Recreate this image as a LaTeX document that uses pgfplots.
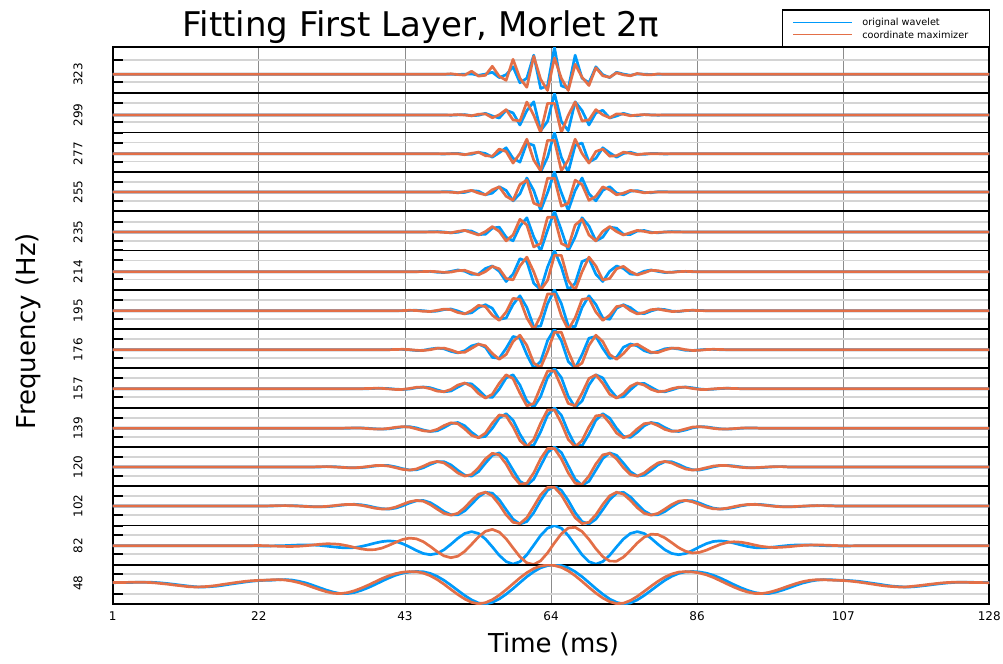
\documentclass[border=0pt]{standalone}
\usepackage{fontspec}
\setmainfont{DejaVu Sans}
\usepackage{pgfplots}
\usepackage{pgfplotstable}
\pgfplotsset{compat=1.18}
\definecolor{jblue}{HTML}{009AFA}
\definecolor{jorange}{HTML}{E36F47}

% 323 Hz
\pgfplotstableread{
t b o
1 0 0
49 0 0
50 0 0.5
51 -0.2 -0.3
52 0.1 -0.8
53 0.4 3.1
54 -1.0 -1.8
55 0.2 -1.0
56 2.0 8.0
57 -3.3 -2.0
58 -0.4 -6.0
59 7.5 15.0
60 -8.5 -4.0
61 -3.9 -13.0
62 19.1 18.0
63 -14.2 -5.0
64 -11.5 -16.2
65 27 16.4
66 -11.5 -4.0
67 -14.2 -16.2
68 19.1 10.0
69 -3.9 -3.0
70 -8.5 -11.2
71 7.5 6.5
72 -0.4 -1.5
73 -3.3 -3.0
74 2.0 1.5
75 0.2 -0.5
76 -1.0 -1.5
77 0.4 0.8
78 0.1 -0.3
79 -0.2 -0.5
80 0 0.3
81 0 0
128 0 0
}\tA
% 299 Hz
\pgfplotstableread{
t b o
1 0 0
49 0 0
50 -0.2 0
51 0.1 0.4
52 0.4 0
53 -0.7 -0.8
54 -0.3 0.8
55 1.7 1.1
56 -1.0 -2.8
57 -3.0 0.2
58 4.7 5.4
59 2.1 -4.9
60 -10.0 -6.0
61 4.4 13.0
62 13.2 -0.3
63 -15.7 -17.5
64 -6.4 11.6
65 21.7 11.6
66 -6.4 -17.5
67 -15.7 -0.3
68 13.2 13.0
69 4.4 -6.0
70 -10.0 -4.9
71 2.1 5.4
72 4.7 0.2
73 -3.0 -2.8
74 -1.0 1.1
75 1.7 0.8
76 -0.3 -0.8
77 -0.7 0
78 0.4 0.4
79 0.1 0
80 -0.2 0
81 0 0
128 0 0
}\tB
% 277 Hz
\pgfplotstableread{
t b o
1 0 0
48 0 0
49 -0.2 0
50 0.2 0
51 0.35 0
52 -0.6 -0.9
53 -0.5 0.5
54 1.6 1.6
55 0.3 -1.9
56 -3.4 -2.4
57 1.0 4.7
58 6.0 2.3
59 -4.5 -9.3
60 -8.3 0.3
61 10.8 14.6
62 8.4 -6.3
63 -18.2 -17.0
64 -3.5 13.4
65 21.4 13.4
66 -3.5 -17.0
67 -18.2 -6.3
68 8.4 14.6
69 10.8 0.3
70 -8.3 -9.3
71 -4.5 2.3
72 6.0 4.7
73 1.0 -2.4
74 -3.4 -1.9
75 0.3 1.6
76 1.6 0.5
77 -0.5 -0.9
78 -0.6 0
79 0.35 0
80 0.2 0
81 -0.2 0
82 0 0
128 0 0
}\tC
% 255 Hz
\pgfplotstableread{
t b o
1 0 0
47 0 0
48 -0.1 0
49 0.3 0
50 0.2 -0.2
51 -0.7 -0.8
52 -0.4 0.5
53 1.4 1.6
54 0.75 -1.1
55 -2.8 -2.8
56 -1.1 2.2
57 5.3 5.1
58 1.6 -4.3
59 -8.9 -8.3
60 -1.8 7.4
61 14.0 11.9
62 1.5 -11.2
63 -18.4 -14.1
64 -0.6 13.8
65 20.1 13.8
66 -0.6 -14.1
67 -18.4 -11.2
68 1.5 11.9
69 14.0 7.4
70 -1.8 -8.3
71 -8.9 -4.3
72 1.6 5.1
73 5.3 2.2
74 -1.1 -2.8
75 -2.8 -1.1
76 0.75 1.6
77 1.4 0.5
78 -0.4 -0.8
79 -0.7 -0.2
80 0.2 0
81 0.3 0
82 -0.1 0
83 0 0
128 0 0
}\tD
% 235 Hz
\pgfplotstableread{
t b o
1 0 0
46 0 0
47 0.2 0
48 0.4 0
49 0 -0.4
50 -0.8 -0.75
51 -0.3 0.6
52 1.5 1.6
53 0.9 -0.7
54 -2.5 -3.0
55 -2.3 0.4
56 3.8 5.4
57 4.9 0.6
58 -5.2 -8.9
59 -8.8 -3.0
60 5.9 12.7
61 14.2 7.0
62 -4.9 -15.0
63 -18.9 -11.5
64 1.9 14.7
65 20.8 14.7
66 1.9 -11.5
67 -18.9 -15.0
68 -4.9 7.0
69 14.2 12.7
70 5.9 -3.0
71 -8.8 -8.9
72 -5.2 0.6
73 4.9 5.4
74 3.8 0.4
75 -2.3 -3.0
76 -2.5 -0.7
77 0.9 1.6
78 1.5 0.6
79 -0.3 -0.75
80 -0.8 -0.4
81 0 0
82 0.4 0
83 0.2 0
84 0 0
128 0 0
}\tE
% 214 Hz
\pgfplotstableread{
t b o
1 0 0
45 0 0
46 0.3 0.1
47 0.3 0.35
48 -0.5 0
49 -0.85 -0.7
50 0.3 -0.4
51 1.7 1.0
52 0.5 1.4
53 -2.7 -1.1
54 -2.4 -3.2
55 3.2 0.1
56 5.7 5.3
57 0.4 2.9
58 -9.8 -6.8
59 -2.5 -8.2
60 13.0 5.7
61 10.2 14.6
62 -11.6 -0.1
63 -18.0 -18.4
64 4.7 -8.7
65 21.2 16.3
66 4.7 16.3
67 -18.0 -8.7
68 -11.6 -18.4
69 10.2 -0.1
70 13.0 14.6
71 -2.5 5.7
72 -9.8 -8.2
73 0.4 -6.8
74 5.7 2.9
75 3.2 5.3
76 -2.4 0.1
77 -2.7 -3.2
78 0.5 -1.1
79 1.7 1.4
80 0.3 1.0
81 -0.85 -0.4
82 -0.5 -0.7
83 0.3 0
84 0.3 0.35
85 0 0.1
86 0 0
128 0 0
}\tF
% 195 Hz
\pgfplotstableread{
t b o
1 0 0
42 0 0
43 0 0.1
44 0.3 0.4
45 0.4 0.2
46 0 -0.6
47 -0.8 -0.8
48 -0.4 0.3
49 1.1 1.6
50 1.7 1.0
51 -0.3 -1.8
52 -3.0 -3.2
53 -2.1 0.2
54 3.1 5.3
55 6.0 4.1
56 2.4 -4.5
57 -8.6 -9.7
58 -7.3 -1.3
59 6.2 12.3
60 14.9 11.3
61 3.2 -7.2
62 -16.0 -18.8
63 -15.3 -5.2
64 7.0 16.7
65 20.9 16.7
66 7.0 -5.2
67 -15.3 -18.8
68 -16.0 -7.2
69 3.2 11.3
70 14.9 12.3
71 6.2 -1.3
72 -7.3 -9.7
73 -8.6 -4.5
74 2.4 4.1
75 6.0 5.3
76 3.1 0.2
77 -2.1 -3.2
78 -3.0 -1.8
79 -0.3 1.0
80 1.7 1.6
81 1.1 0.3
82 -0.4 -0.8
83 -0.8 -0.6
84 0 0.2
85 0.4 0.4
86 0.3 0.1
87 0 0
128 0 0
}\tG
% 176 Hz
\pgfplotstableread{
t b o
1 0 0
41 0 0
42 0.3 0.2
43 0.3 0.4
44 -0.2 0.1
45 -0.8 -0.6
46 -0.6 -0.8
47 0.7 0
48 1.6 1.35
49 0.9 1.6
50 -1.7 -0.3
51 -3.2 -2.8
52 -1.0 -2.6
53 3.8 1.4
54 5.7 5.5
55 2.5 3.9
56 -7.7 -3.8
57 -8.6 -9.6
58 1.4 -4.8
59 13.2 8.1
60 11.5 14.5
61 -4.9 4.3
62 -18.4 -13.4
63 -11.8 -17.8
64 9.1 -1.8
65 20.6 17.5
66 9.1 17.5
67 -11.8 -1.8
68 -18.4 -17.8
69 -4.9 -13.4
70 11.5 4.3
71 13.2 14.5
72 1.4 8.1
73 -8.6 -4.8
74 -7.7 -9.6
75 2.5 -3.8
76 5.7 3.9
77 3.8 5.5
78 -1.0 1.4
79 -3.2 -2.6
80 -1.7 -2.8
81 0.9 -0.3
82 1.6 1.6
83 0.7 1.35
84 -0.6 0
85 -0.8 -0.8
86 -0.2 -0.6
87 0.3 0.1
88 0.3 0.4
89 0 0.2
90 0 0
128 0 0
}\tH
% 157 Hz
\pgfplotstableread{
t b o
1 0 0
37 0 0
38 0 0.2
39 0.3 0.4
40 0.4 0.3
41 0.1 -0.2
42 -0.5 -0.8
43 -0.8 -0.7
44 -0.3 0.2
45 0.9 1.4
46 1.7 1.5
47 1.0 0
48 -1.2 -2.4
49 -3.1 -3.0
50 -2.3 -0.7
51 1.5 3.6
52 5.3 5.7
53 4.8 2.4
54 -1.1 -4.8
55 -8.1 -9.4
56 -8.7 -5.5
57 -0.4 5.4
58 10.8 13.9
59 13.9 10.1
60 3.6 -4.5
61 -12.3 -17.1
62 -18.6 -14.8
63 -7.7 1.8
64 11.1 17.6
65 20.3 17.6
66 11.1 1.8
67 -7.7 -14.8
68 -18.6 -17.1
69 -12.3 -4.5
70 3.6 10.1
71 13.9 13.9
72 10.8 5.4
73 -0.4 -5.5
74 -8.7 -9.4
75 -8.1 -4.8
76 -1.1 2.4
77 4.8 5.7
78 5.3 3.6
79 1.5 -0.7
80 -2.3 -3.0
81 -3.1 -2.4
82 -1.2 0
83 1.0 1.5
84 1.7 1.4
85 0.9 0.2
86 -0.3 -0.7
87 -0.8 -0.8
88 -0.5 -0.2
89 0.1 0.3
90 0.4 0.4
91 0.3 0.2
92 0 0
128 0 0
}\tI
% 139 Hz
\pgfplotstableread{
t b o
1 0 0
34 0 0
35 0 0.3
36 0.35 0.4
37 0.35 0.2
38 0 -0.3
39 -0.5 -0.7
40 -0.85 -0.8
41 -0.5 -0.1
42 0.4 1.0
43 1.4 1.65
44 1.6 1.2
45 0.4 -0.6
46 -1.7 -2.5
47 -3.2 -3.1
48 -2.5 -1.1
49 0.7 2.7
50 4.6 5.5
51 5.8 4.6
52 2.5 -0.6
53 -4.0 -7.0
54 -9.1 -9.5
55 -8.1 -4.8
56 0 5.2
57 10.2 13.3
58 14.6 12.4
59 8.1 1.5
60 -5.9 -12.3
61 -17.4 -18.4
62 -16.9 -11.1
63 -3.5 5.1
64 13.1 18.3
65 20.6 18.3
66 13.1 5.1
67 -3.5 -11.1
68 -16.9 -18.4
69 -17.4 -12.3
70 -5.9 1.5
71 8.1 12.4
72 14.6 13.3
73 10.2 5.2
74 0 -4.8
75 -8.1 -9.5
76 -9.1 -7.0
77 -4.0 -0.6
78 2.5 4.6
79 5.8 5.5
80 4.6 2.7
81 0.7 -1.1
82 -2.5 -3.1
83 -3.2 -2.5
84 -1.7 -0.6
85 0.4 1.2
86 1.6 1.65
87 1.4 1.0
88 0.4 -0.1
89 -0.5 -0.8
90 -0.85 -0.7
91 -0.5 -0.3
92 0 0.2
93 0.35 0.4
94 0.35 0.3
95 0 0
128 0 0
}\tJ
% 120 Hz
\pgfplotstableread{
t b o
1 0 0
30 0 0
31 0 0.35
32 0.4 0.35
33 0.3 0.1
34 -0.1 -0.3
35 -0.6 -0.7
36 -0.8 -0.8
37 -0.6 -0.3
38 0.1 0.5
39 1.0 1.4
40 1.6 1.6
41 1.4 0.9
42 0.1 -0.7
43 -1.7 -2.4
44 -3.0 -3.1
45 -2.8 -2.0
46 -0.75 0.8
47 2.5 4.0
48 5.2 5.6
49 5.3 4.1
50 2.1 -0.5
51 -3.3 -6.0
52 -8.2 -9.1
53 -9.1 -7.5
54 -4.7 -0.7
55 3.8 8.1
56 11.7 13.7
57 14.1 12.1
58 8.4 3.0
59 -3.1 -9.1
60 -14.3 -17.3
61 -18.3 -16.3
62 -12.2 -5.9
63 1.2 8.3
64 14.5 18.4
65 20 18.4
66 14.5 8.3
67 1.2 -5.9
68 -12.2 -16.3
69 -18.3 -17.3
70 -14.3 -9.1
71 -3.1 3.0
72 8.4 12.1
73 14.1 13.7
74 11.7 8.1
75 3.8 -0.7
76 -4.7 -7.5
77 -9.1 -9.1
78 -8.2 -6.0
79 -3.3 -0.5
80 2.1 4.1
81 5.3 5.6
82 5.2 4.0
83 2.5 0.8
84 -0.75 -2.0
85 -2.8 -3.1
86 -3.0 -2.4
87 -1.7 -0.7
88 0.1 0.9
89 1.4 1.6
90 1.6 1.4
91 1.0 0.5
92 0.1 -0.3
93 -0.6 -0.8
94 -0.8 -0.7
95 -0.6 -0.3
96 -0.1 0.1
97 0.3 0.35
98 0.4 0.35
99 0 0
128 0 0
}\tK
% 102 Hz
\pgfplotstableread{
t b o
1 0 0
23 0 0
24 0 0.2
25 0.3 0.35
26 0.4 0.4
27 0.3 0.2
28 0.1 -0.1
29 -0.3 -0.5
30 -0.65 -0.8
31 -0.8 -0.8
32 -0.65 -0.4
33 -0.1 0.3
34 0.7 1.1
35 1.4 1.6
36 1.7 1.5
37 1.2 0.7
38 0.1 -0.7
39 -1.5 -2.2
40 -2.7 -3.0
41 -3.1 -2.8
42 -2.1 -1.1
43 0.2 1.6
44 3.0 4.2
45 5.2 5.6
46 5.5 4.8
47 3.4 1.5
48 -0.7 -3.1
49 -5.5 -7.4
50 -8.7 -9.1
51 -8.8 -7.3
52 -4.9 -1.7
53 1.9 5.7
54 9.1 11.8
55 13.7 13.8
56 12.8 10.1
57 6.3 1.5
58 -3.7 -8.8
59 -13.2 -16.3
60 -18.0 -17.6
61 -15.6 -11.7
62 -6.6 -0.6
63 5.5 11.1
64 15.7 18.6
65 19.7 18.6
66 15.7 11.1
67 5.5 -0.6
68 -6.6 -11.7
69 -15.6 -17.6
70 -18.0 -16.3
71 -13.2 -8.8
72 -3.7 1.5
73 6.3 10.1
74 12.8 13.8
75 13.7 11.8
76 9.1 5.7
77 1.9 -1.7
78 -4.9 -7.3
79 -8.8 -9.1
80 -8.7 -7.4
81 -5.5 -3.1
82 -0.7 1.5
83 3.4 4.8
84 5.5 5.6
85 5.2 4.2
86 3.0 1.6
87 0.2 -1.1
88 -2.1 -2.8
89 -3.1 -3.0
90 -2.7 -2.2
91 -1.5 -0.7
92 0.1 0.7
93 1.2 1.5
94 1.7 1.6
95 1.4 1.1
96 0.7 0.3
97 -0.1 -0.4
98 -0.65 -0.8
99 -0.8 -0.8
100 -0.65 -0.5
101 -0.3 -0.1
102 0.1 0.2
103 0.3 0.4
104 0.4 0.35
105 0.3 0.2
106 0 0
128 0 0
}\tL
% 82 Hz
\pgfplotstableread{
t b o
1 0 0
20 0 0
21 -0.1 0
22 -0.2 0.2
23 -0.3 0
24 -0.2 -0.25
25 -0.1 -0.5
26 0.1 -0.7
27 0.4 -0.75
28 0.7 -0.5
29 0.8 0
30 0.7 0.7
31 0.3 1.4
32 -0.4 1.9
33 -1.2 1.8
34 -1.9 1.2
35 -2.2 -0.1
36 -1.9 -1.7
37 -0.8 -3.2
38 0.8 -4.1
39 2.6 -3.9
40 4.1 -2.4
41 4.8 0.3
42 4.2 3.4
43 2.0 6.2
44 -1.2 7.6
45 -4.8 6.9
46 -7.8 4.0
47 -9.0 -0.7
48 -7.8 -5.9
49 -4.1 -10.2
50 1.4 -12.0
51 7.4 -10.5
52 12.2 -5.7
53 14.1 1.4
54 12.2 8.8
55 6.7 14.4
56 -1.2 16.3
57 -9.6 13.6
58 -15.9 6.9
59 -18.4 -2.2
60 -16.0 -11.1
61 -9.1 -17.2
62 0.5 -18.8
63 10.2 -15.1
64 17.5 -7.2
65 20.1 2.8
66 17.5 11.9
67 10.2 17.7
68 0.5 18.4
69 -9.1 14.2
70 -16.0 6.3
71 -18.4 -3.0
72 -15.9 -10.9
73 -9.6 -15.4
74 -1.2 -15.5
75 6.7 -11.4
76 12.2 -4.7
77 14.1 2.7
78 12.2 8.5
79 7.4 11.5
80 1.4 11.1
81 -4.1 7.8
82 -7.8 3.0
83 -9.0 -2.0
84 -7.8 -5.6
85 -4.8 -7.3
86 -1.2 -6.7
87 2.0 -4.5
88 4.2 -1.6
89 4.8 1.2
90 4.1 3.2
91 2.6 3.9
92 0.8 3.5
93 -0.8 2.3
94 -1.9 0.7
95 -2.2 -0.7
96 -1.9 -1.5
97 -1.2 -1.8
98 -0.4 -1.5
99 0.3 -1.0
100 0.7 -0.3
101 0.8 0.3
102 0.7 0.6
103 0.4 0.7
104 0.1 0.6
105 -0.1 0.35
106 -0.2 0.1
107 -0.3 -0.1
108 -0.2 -0.2
109 -0.1 0
110 0 0
128 0 0
}\tM
% 48 Hz
\pgfplotstableread{
t b o
1 0.6 0.7
2 0.7 0.8
3 0.8 0.9
4 0.9 1.1
5 1.1 1.1
6 1.1 0.9
7 0.9 0.5
8 0.4 -0.2
9 -0.3 -0.9
10 -1.1 -1.8
11 -2.0 -2.6
12 -2.8 -3.4
13 -3.5 -3.7
14 -3.8 -3.5
15 -3.4 -3.0
16 -2.9 -2.2
17 -2.0 -1.1
18 -0.9 -0.1
19 0.1 0.9
20 1.1 1.8
21 2.0 2.5
22 2.6 2.9
23 3.0 3.1
24 3.1 3.5
25 3.6 3.7
26 3.7 3.3
27 3.2 2.2
28 2.0 0.6
29 0.3 -1.5
30 -2.0 -4.0
31 -4.5 -6.4
32 -6.9 -8.5
33 -8.9 -10.0
34 -10.3 -10.3
35 -10.3 -9.4
36 -9.2 -7.5
37 -7.1 -4.9
38 -4.4 -1.9
39 -1.3 1.4
40 2.1 4.7
41 5.3 7.5
42 8.1 9.7
43 10.1 11.1
44 11.3 11.7
45 11.8 11.6
46 11.5 10.2
47 9.9 7.6
48 7.0 3.8
49 3.0 -0.9
50 -1.9 -6.1
51 -7.1 -11.2
52 -12.2 -15.7
53 -16.6 -19.1
54 -19.7 -20.5
55 -20.7 -19.4
56 -19.1 -16.4
57 -15.7 -11.9
58 -10.9 -6.4
59 -5.3 -0.5
60 0.7 5.4
61 6.6 10.6
62 11.6 14.7
63 15.5 17.3
64 17.7 18.3
65 18.4 17.8
66 17.7 15.9
67 15.5 12.4
68 11.6 7.6
69 6.6 1.9
70 0.7 -4.1
71 -5.3 -9.8
72 -10.9 -14.7
73 -15.7 -18.4
74 -19.1 -20.4
75 -20.7 -19.9
76 -19.7 -17.2
77 -16.6 -13.1
78 -12.2 -8.1
79 -7.1 -2.9
80 -1.9 2.0
81 3.0 6.2
82 7.0 9.3
83 9.9 11.2
84 11.5 11.7
85 11.8 11.4
86 11.3 10.3
87 10.1 8.5
88 8.1 5.9
89 5.3 2.7
90 2.1 -0.6
91 -1.3 -3.8
92 -4.4 -6.6
93 -7.1 -8.8
94 -9.2 -10.1
95 -10.3 -10.3
96 -10.3 -9.2
97 -8.9 -7.3
98 -6.9 -5.0
99 -4.5 -2.5
100 -2.0 -0.2
101 0.3 1.7
102 2.0 3.0
103 3.2 3.6
104 3.7 3.6
105 3.6 3.2
106 3.1 3.0
107 3.0 2.7
108 2.6 2.1
109 2.0 1.3
110 1.1 0.3
111 0.1 -0.7
112 -0.9 -1.8
113 -2.0 -2.7
114 -2.9 -3.3
115 -3.4 -3.7
116 -3.8 -3.6
117 -3.5 -2.9
118 -2.8 -2.2
119 -2.0 -1.3
120 -1.1 -0.5
121 -0.3 0.3
122 0.4 0.8
123 0.9 1.1
124 1.1 1.1
125 1.1 0.9
126 0.9 0.8
127 0.8 0.7
128 0.7 0.6
}\tN

\pgfplotsset{
  panel/.style={
    scale only axis, width=438.3pt, anchor=north west,
    xmin=1, xmax=128,
    axis line style={line width=0.9pt, black},
    xtick={1,22.1667,43.3333,64.5,85.6667,106.8333,128},
    xticklabels={},
    xmajorgrids, x grid style={black!45, line width=0.4pt},
    ymajorgrids, y grid style={black!17, line width=0.9pt},
    major tick length=5pt, tick align=inside,
    xtick style={draw=none},
    ytick pos=left, yticklabels={},
    ytick style={black, line width=1pt},
    every axis plot/.append style={line width=1.35pt, line join=round},
  }
}

\begin{document}
\begin{tikzpicture}
\useasboundingbox (0,0) rectangle (501.5pt,332pt);

\begin{axis}[panel, at={(56.35pt,308.35pt)}, height=23pt, ymin=-19, ymax=27, ytick={-19,-7.4,14.3,27}]
\addplot[jblue] table[x=t,y=b]{\tA};
\addplot[jorange] table[x=t,y=o]{\tA};
\end{axis}
\begin{axis}[panel, at={(56.35pt,285.35pt)}, height=19.65pt, ymin=-17.6, ymax=21.7, ytick={-17.6,-7.3,11.7,21.7}]
\addplot[jblue] table[x=t,y=b]{\tB};
\addplot[jorange] table[x=t,y=o]{\tB};
\end{axis}
\begin{axis}[panel, at={(56.35pt,265.7pt)}, height=19.65pt, ymin=-18.1, ymax=21.2, ytick={-18.1,-7.8,11.2,21.2}]
\addplot[jblue] table[x=t,y=b]{\tC};
\addplot[jorange] table[x=t,y=o]{\tC};
\end{axis}
\begin{axis}[panel, at={(56.35pt,246.05pt)}, height=19.65pt, ymin=-19.2, ymax=20.1, ytick={-19.2,-8.9,10.1,20.1}]
\addplot[jblue] table[x=t,y=b]{\tD};
\addplot[jorange] table[x=t,y=o]{\tD};
\end{axis}
\begin{axis}[panel, at={(56.35pt,226.4pt)}, height=19.65pt, ymin=-18.5, ymax=20.8, ytick={-18.5,-8.7,10.3,20.8}]
\addplot[jblue] table[x=t,y=b]{\tE};
\addplot[jorange] table[x=t,y=o]{\tE};
\end{axis}
\begin{axis}[panel, at={(56.35pt,206.75pt)}, height=19.65pt, ymin=-18.1, ymax=21.2, ytick={-18.1,-7.8,11.2,21.2}]
\addplot[jblue] table[x=t,y=b]{\tF};
\addplot[jorange] table[x=t,y=o]{\tF};
\end{axis}
\begin{axis}[panel, at={(56.35pt,187.1pt)}, height=19.65pt, ymin=-18.4, ymax=20.9, ytick={-18.4,-8.1,10.9,20.9}]
\addplot[jblue] table[x=t,y=b]{\tG};
\addplot[jorange] table[x=t,y=o]{\tG};
\end{axis}
\begin{axis}[panel, at={(56.35pt,167.45pt)}, height=19.65pt, ymin=-18.7, ymax=20.6, ytick={-18.7,-8.4,10.6,20.6}]
\addplot[jblue] table[x=t,y=b]{\tH};
\addplot[jorange] table[x=t,y=o]{\tH};
\end{axis}
\begin{axis}[panel, at={(56.35pt,147.8pt)}, height=19.65pt, ymin=-19, ymax=20.3, ytick={-19,-8.7,10.3,20.3}]
\addplot[jblue] table[x=t,y=b]{\tI};
\addplot[jorange] table[x=t,y=o]{\tI};
\end{axis}
\begin{axis}[panel, at={(56.35pt,128.15pt)}, height=19.65pt, ymin=-18.7, ymax=20.6, ytick={-18.7,-8.4,10.6,20.6}]
\addplot[jblue] table[x=t,y=b]{\tJ};
\addplot[jorange] table[x=t,y=o]{\tJ};
\end{axis}
\begin{axis}[panel, at={(56.35pt,108.5pt)}, height=19.65pt, ymin=-19.3, ymax=20, ytick={-19.3,-9,10,20}]
\addplot[jblue] table[x=t,y=b]{\tK};
\addplot[jorange] table[x=t,y=o]{\tK};
\end{axis}
\begin{axis}[panel, at={(56.35pt,88.85pt)}, height=19.65pt, ymin=-19.6, ymax=19.7, ytick={-19.6,-9.3,9.7,19.7}]
\addplot[jblue] table[x=t,y=b]{\tL};
\addplot[jorange] table[x=t,y=o]{\tL};
\end{axis}
\begin{axis}[panel, at={(56.35pt,69.2pt)}, height=19.65pt, ymin=-19.2, ymax=20.1, ytick={-19.2,-8.3,10.7,20.1}]
\addplot[jblue] table[x=t,y=b]{\tM};
\addplot[jorange] table[x=t,y=o]{\tM};
\end{axis}
\begin{axis}[panel, at={(56.35pt,49.55pt)}, height=19.65pt, ymin=-20.9, ymax=18.4, ytick={-20.9,-10.7,9,18.4},
  xticklabels={1,22,43,64,86,107,128},
  xticklabel style={font=\fontsize{6}{7}\selectfont}]
\addplot[jblue] table[x=t,y=b]{\tN};
\addplot[jorange] table[x=t,y=o]{\tN};
\end{axis}

% panel labels
\begin{scope}[every node/.style={rotate=90, font=\fontsize{6}{7}\selectfont, inner sep=0pt}]
\node at (39pt,294.85pt) {323};
\node at (39pt,274.5pt) {299};
\node at (39pt,255.1pt) {277};
\node at (39pt,236pt) {255};
\node at (39pt,216pt) {235};
\node at (39pt,196.15pt) {214};
\node at (39pt,176.65pt) {195};
\node at (39pt,157.15pt) {176};
\node at (39pt,137.65pt) {157};
\node at (39pt,117.85pt) {139};
\node at (39pt,98.5pt) {120};
\node at (39pt,79pt) {102};
\node at (39pt,59.15pt) {82};
\node at (39pt,40.35pt) {48};
\end{scope}

% titles
\node[anchor=base, font=\fontsize{17}{20}\selectfont, inner sep=0pt] at (210.4pt,313.65pt) {Fitting First Layer, Morlet 2π};
\node[anchor=base, font=\fontsize{13}{15}\selectfont, inner sep=0pt] at (276.8pt,5.5pt) {Time (ms)};
\node[rotate=90, font=\fontsize{13}{15}\selectfont, inner sep=0pt] at (14pt,166.5pt) {Frequency (Hz)};

% legend
\draw[line width=0.75pt, fill=white] (391.35pt,327pt) rectangle (494.65pt,308.65pt);
\draw[jblue, line width=0.6pt] (396.65pt,320.65pt) -- (426.15pt,320.65pt);
\draw[jorange, line width=0.6pt] (396.65pt,314.65pt) -- (426.15pt,314.65pt);
\node[anchor=west, font=\fontsize{4.85}{5}\selectfont, inner sep=0pt] at (431pt,320.65pt) {original wavelet};
\node[anchor=west, font=\fontsize{4.85}{5}\selectfont, inner sep=0pt] at (431pt,314.65pt) {coordinate maximizer};
\end{tikzpicture}
\end{document}
